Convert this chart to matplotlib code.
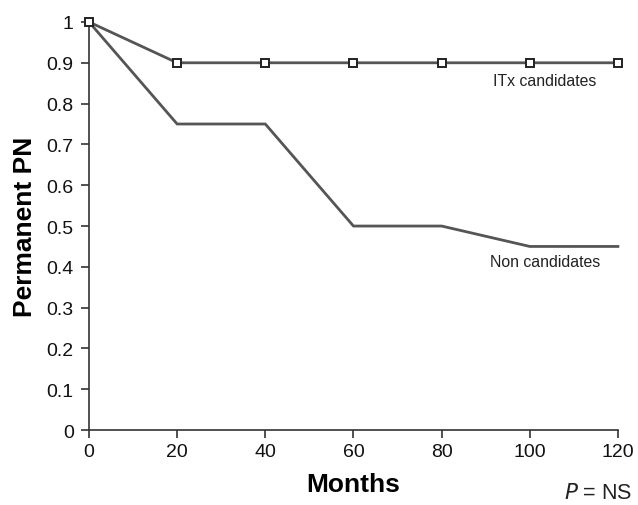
import matplotlib.pyplot as plt

months = [0, 20, 40, 60, 80, 100, 120]
itx_candidates = [1.0, 0.9, 0.9, 0.9, 0.9, 0.9, 0.9]
non_candidates = [1.0, 0.75, 0.75, 0.5, 0.5, 0.45, 0.45]
y_ticks = [0, 0.1, 0.2, 0.3, 0.4, 0.5, 0.6, 0.7, 0.8, 0.9, 1]
y_labels = ['0', '0.1', '0.2', '0.3', '0.4', '0.5', '0.6', '0.7', '0.8', '0.9', '1']

plt.rcParams['font.family'] = ['Liberation Sans', 'DejaVu Sans']

LINE_COLOR = '#555555'
AXIS_COLOR = '#333333'

fig = plt.figure(figsize=(6.38, 5.06), dpi=100)
ax = fig.add_axes([0.1395, 0.148, 0.829, 0.8066])

ax.plot(months, non_candidates, color=LINE_COLOR, linewidth=2, clip_on=False)
ax.plot(months, itx_candidates, color=LINE_COLOR, linewidth=2, marker='s',
        markersize=5.5, markerfacecolor='white', markeredgecolor='#222222',
        markeredgewidth=1.4, clip_on=False, zorder=3)

ax.set_xlim(0, 120)
ax.set_ylim(0, 1)
ax.set_xticks(months)
ax.set_yticks(y_ticks)
ax.set_yticklabels(y_labels)

for side in ['top', 'right']:
    ax.spines[side].set_visible(False)
for side in ['left', 'bottom']:
    ax.spines[side].set_color(AXIS_COLOR)
    ax.spines[side].set_linewidth(1.2)

ax.tick_params(direction='out', length=6, width=1.2, color=AXIS_COLOR,
               labelsize=14, labelcolor='#111111')
ax.tick_params(axis='x', pad=3)
ax.tick_params(axis='y', pad=5)

ax.set_xlabel('Months', fontsize=19, fontweight='bold')
ax.set_ylabel('Permanent PN', fontsize=19, fontweight='bold')
ax.xaxis.set_label_coords(0.5, -0.102)
ax.yaxis.set_label_coords(-0.098, 0.5)

ax.text(103.4, 0.856, 'ITx candidates', fontsize=11.4, ha='center', va='center', color='#222222')
ax.text(103.6, 0.413, 'Non candidates', fontsize=11.4, ha='center', va='center', color='#222222')

fig.text(0.937, 0.024, r'$\it{P}$ = NS', fontsize=15.5, ha='center', va='center', color='#222222')

plt.savefig('out.png', dpi=100, facecolor='white')
